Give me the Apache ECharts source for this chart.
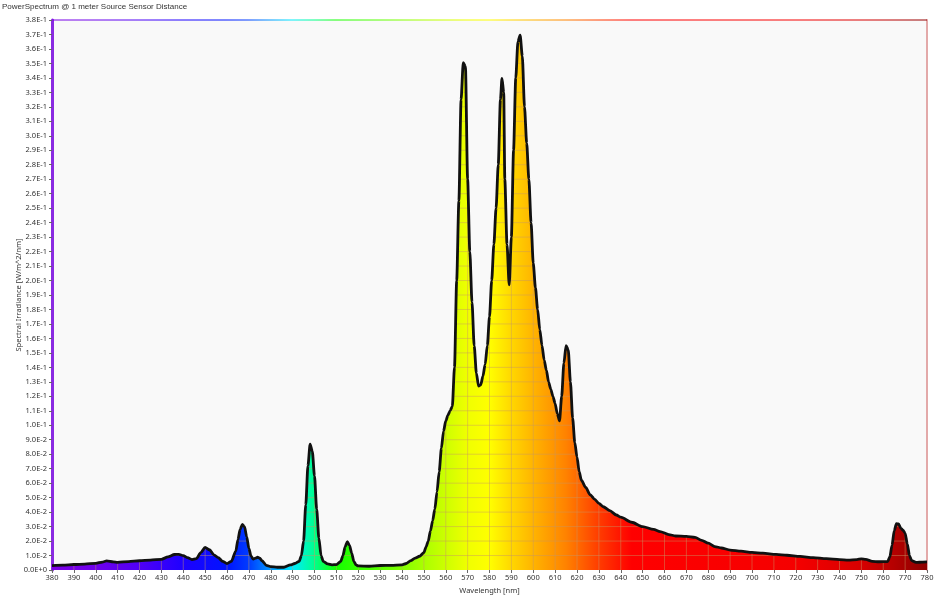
<!DOCTYPE html>
<html><head><meta charset="utf-8">
<script src="https://cdn.jsdelivr.net/npm/echarts@6/dist/echarts.min.js"></script>
<style>html,body{margin:0;padding:0;background:#ffffff;overflow:hidden}#c{width:945px;height:596px}</style>
</head><body><div id="c"></div>
<script>
const chartTitle = 'PowerSpectrum @ 1 meter Source Sensor Distance';
const xAxisName = 'Wavelength [nm]';
const yAxisName = 'Spectral Irradiance [W/m^2/nm]';

const wavelengths = [
380,385,390,395,400,403,405,408,410,415,420,425,430,433,436,438,440,442,444,446,448,450,452,454,456,458,460,462,464,465,466,467,468,469,470,471,472,473,474,475,476,478,480,483,486,489,491,493,494,495,496,497,498,499,500,501,502,503,504,506,508,510,512,513,514,515,516,517,518,519,520,525,530,535,540,542,544,546,548,550,551,552,553,554,555,556,557,558,559,560,561,562,563,564,565,566,567,568,569,570,571,572,573,574,575,576,577,578,579,580,581,582,583,584,585,585.7,586.5,587,588,589,590,591,592,593,594,595,596,597,598,599,600,601,602,603,604,605,606,607,608,609,610,611,612,613,614,615,616,617,618,619,620,621,622,624,626,628,630,632,635,638,640,645,650,655,658,662,665,670,674,677,680,683,686,690,695,700,705,711,716,722,728,734,740,744,748,750,752,755,758,762,763,764,765,766,767,768,769,770,771,772,773,775,778,780
];
const irradiance = [
0.0030,0.0033,0.0038,0.0041,0.0046,0.0055,0.0063,0.0056,0.0053,0.0058,0.0064,0.0068,0.0074,0.0090,0.0107,0.0108,0.0100,0.0085,0.0072,0.0078,0.0120,0.0157,0.0140,0.0105,0.0085,0.0060,0.0044,0.0060,0.0130,0.0210,0.0280,0.0315,0.0300,0.0230,0.0150,0.0095,0.0075,0.0082,0.0088,0.0082,0.0064,0.0032,0.0023,0.0019,0.0019,0.0035,0.0045,0.0060,0.0100,0.0200,0.0450,0.0720,0.0870,0.0820,0.0650,0.0420,0.0220,0.0100,0.0060,0.0042,0.0036,0.0037,0.0060,0.0100,0.0160,0.0196,0.0170,0.0117,0.0060,0.0035,0.0028,0.0026,0.0031,0.0032,0.0036,0.0045,0.0065,0.0082,0.0095,0.0120,0.0160,0.0200,0.0270,0.0340,0.0420,0.0540,0.0680,0.0840,0.0960,0.1030,0.1070,0.1100,0.1130,0.1400,0.2000,0.2550,0.3250,0.3505,0.3480,0.2700,0.2200,0.1850,0.1550,0.1360,0.1270,0.1280,0.1340,0.1420,0.1550,0.1750,0.2000,0.2250,0.2500,0.2800,0.3250,0.3397,0.3300,0.2700,0.2250,0.1970,0.2300,0.2900,0.3400,0.3650,0.3696,0.3550,0.3200,0.2950,0.2700,0.2400,0.2120,0.1950,0.1800,0.1660,0.1550,0.1450,0.1380,0.1300,0.1250,0.1200,0.1150,0.1080,0.1030,0.1200,0.1430,0.1550,0.1520,0.1300,0.1050,0.0880,0.0780,0.0680,0.0620,0.0570,0.0520,0.0490,0.0460,0.0437,0.0410,0.0380,0.0365,0.0330,0.0300,0.0280,0.0265,0.0245,0.0235,0.0232,0.0225,0.0205,0.0185,0.0162,0.0152,0.0138,0.0130,0.0122,0.0116,0.0108,0.0102,0.0094,0.0085,0.0078,0.0072,0.0068,0.0072,0.0077,0.0073,0.0060,0.0057,0.0058,0.0090,0.0170,0.0270,0.0320,0.0318,0.0290,0.0275,0.0255,0.0180,0.0100,0.0065,0.0052,0.0055,0.0056
];

const xMin = 380, xMax = 780, xStep = 10;
const yMin = 0, yMax = 0.38, yStep = 0.01;

// styling: spectral colour stops (wavelength -> colour)
const spectrumStops = [
 [380,'rgb(125,0,230)'],[400,'rgb(110,0,235)'],[420,'rgb(80,0,245)'],[440,'rgb(30,0,255)'],
 [460,'rgb(0,20,255)'],[470,'rgb(0,60,255)'],[480,'rgb(0,150,255)'],[490,'rgb(0,235,255)'],
 [500,'rgb(0,255,140)'],[510,'rgb(20,255,0)'],[530,'rgb(90,255,0)'],[550,'rgb(170,255,0)'],
 [570,'rgb(240,255,0)'],[580,'rgb(255,255,0)'],[590,'rgb(255,215,0)'],[600,'rgb(255,180,0)'],
 [615,'rgb(255,130,0)'],[630,'rgb(255,60,0)'],[645,'rgb(255,0,0)'],[720,'rgb(245,0,0)'],
 [750,'rgb(215,0,0)'],[765,'rgb(180,0,0)'],[780,'rgb(140,0,0)']
];
const gradStops = spectrumStops.map(s => ({offset:(s[0]-xMin)/(xMax-xMin), color:s[1]}));
const gridLineColor = 'rgba(200,150,100,0.45)';

const seriesData = wavelengths.map((w,i) => [w, irradiance[i]]);

function crossAt(i, j, L) {
  const a = irradiance[i], b = irradiance[j];
  return wavelengths[i] + (L - a) / (b - a) * (wavelengths[j] - wavelengths[i]);
}
function valAt(w) {
  for (let i = 1; i < wavelengths.length; i++) {
    if (w <= wavelengths[i]) {
      const t = (w - wavelengths[i-1]) / (wavelengths[i] - wavelengths[i-1]);
      return irradiance[i-1] + t * (irradiance[i] - irradiance[i-1]);
    }
  }
  return irradiance[irradiance.length-1];
}
function renderGrid(params, api) {
  const children = [];
  const style = {stroke: gridLineColor, lineWidth: 1};
  const line = (x1,y1,x2,y2) => {
    const p = api.coord([x1,y1]), q = api.coord([x2,y2]);
    children.push({type:'line', shape:{x1:p[0],y1:p[1],x2:q[0],y2:q[1]}, style});
  };
  for (let w = xMin + xStep; w < xMax; w += xStep) line(w, 0, w, valAt(w));
  const n = wavelengths.length;
  for (let k = 1; k * yStep <= yMax + 1e-9; k++) {
    const L = k * yStep;
    let start = null;
    for (let i = 0; i < n; i++) {
      const above = irradiance[i] >= L;
      if (above && start === null) start = i === 0 ? wavelengths[0] : crossAt(i-1, i, L);
      else if (!above && start !== null) { line(start, L, crossAt(i-1, i, L), L); start = null; }
    }
    if (start !== null) line(start, L, wavelengths[n-1], L);
  }
  return {type:'group', children};
}

const font = 'Noto Sans';
const chart = echarts.init(document.getElementById('c'), null, {renderer:'canvas', width: 945, height: 596});
chart.setOption({
  backgroundColor: '#ffffff',
  animation: false,
  title: {text: chartTitle, left: 2, top: 3, padding: 0,
    textStyle: {fontFamily: 'Liberation Sans', fontSize: 8, fontWeight: 'normal', color: '#333'}},
  grid: {left: 52, width: 875, top: 20, height: 550, show: true, backgroundColor: '#f9f9f9', borderWidth: 0,
    containLabel: false, outerBoundsMode: 'none'},
  xAxis: [{
    type: 'value', min: xMin, max: xMax, interval: xStep,
    name: xAxisName, nameLocation: 'middle', nameGap: 17, nameMoveOverlap: false,
    nameTextStyle: {fontFamily: font, fontSize: 7.5, color: '#333'},
    axisLine: {show: false}, axisTick: {show: true, length: 3, lineStyle: {color: '#666'}},
    axisLabel: {fontFamily: font, fontSize: 7.5, color: '#333', margin: 4},
    splitLine: {show: false}
  }],
  yAxis: [{
    type: 'value', min: yMin, max: yMax, interval: yStep,
    name: yAxisName, nameLocation: 'middle', nameGap: 29, nameRotate: 90, nameMoveOverlap: false,
    nameTextStyle: {fontFamily: font, fontSize: 7.5, color: '#333'},
    axisLine: {show: true, lineStyle: {color: '#8a2be2', width: 3}},
    axisTick: {show: true, length: 3, lineStyle: {color: '#666'}},
    axisLabel: {fontFamily: font, fontSize: 7.5, color: '#333', margin: 5,
      formatter: v => Number(v).toExponential(1).toUpperCase()},
    splitLine: {show: false}
  },{
    type: 'value', min: yMin, max: yMax, position: 'right',
    axisLine: {show: true, lineStyle: {color: '#e3a9a9', width: 2}},
    axisTick: {show: false}, axisLabel: {show: false}, splitLine: {show: false}
  }],
  series: [{
    type: 'line', data: seriesData, symbol: 'none', smooth: 0.25, smoothMonotone: 'x',
    lineStyle: {width: 0}, z: 1,
    areaStyle: {opacity: 1, color: new echarts.graphic.LinearGradient(0,0,1,0, gradStops)}
  },{
    type: 'custom', data: [[xMin, 0]], renderItem: renderGrid, z: 2, silent: true
  },{
    type: 'line', data: seriesData, symbol: 'none', smooth: 0.25, smoothMonotone: 'x', z: 3,
    lineStyle: {width: 2.8, color: '#111'}
  },{
    type: 'line', data: [[xMin, yMax],[xMax, yMax]], symbol: 'none', z: 4, clip: false, silent: true,
    lineStyle: {width: 2, opacity: 0.5, color: new echarts.graphic.LinearGradient(0,0,1,0, gradStops)}
  }]
});
</script>
</body></html>
